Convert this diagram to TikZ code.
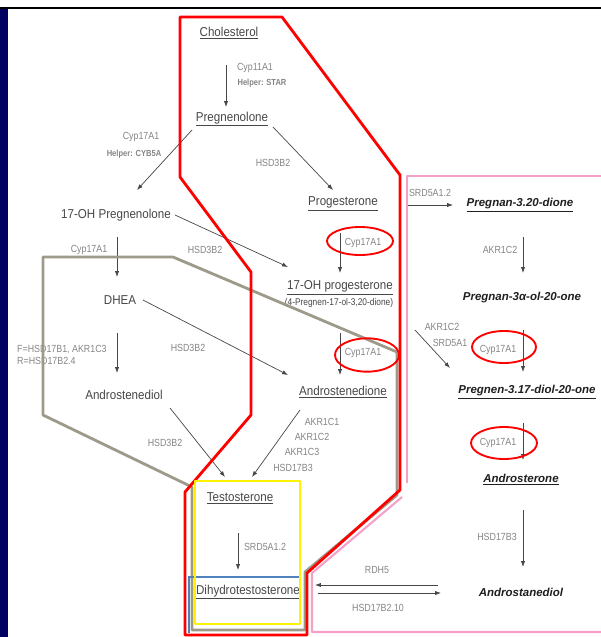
\documentclass[tikz,border=0pt]{standalone}
\usepackage{fontspec}
\setmainfont{Liberation Sans}
\newfontfamily\cmpdfont{Liberation Sans}[FakeStretch=0.9]
\newfontfamily\enzfont{Liberation Sans}[FakeStretch=0.86]
\usetikzlibrary{arrows.meta, calc}
\definecolor{navy}{RGB}{0,0,96}
\definecolor{khaki}{RGB}{158,154,138}
\definecolor{rosa}{RGB}{244,160,200}
\definecolor{steel}{RGB}{79,129,189}
\tikzset{
  cmpd/.style={font=\cmpdfont\fontsize{11}{13}\selectfont, text=black!72, inner sep=1pt},
  cmpdi/.style={font=\fontsize{9.8}{12}\selectfont\bfseries\itshape, text=black!88, inner sep=1pt},
  enz/.style={font=\enzfont\fontsize{8.8}{10.5}\selectfont, text=black!48, inner sep=0pt},
  helper/.style={font=\enzfont\fontsize{7.5}{8}\selectfont\bfseries, text=black!48, inner sep=0pt},
  arr/.style={-{Latex[length=5pt,width=3.6pt]}, draw=black!72, line width=0.6pt},
  hilite/.style={draw=red, line width=1.6pt},
  outline/.style={line width=2.4pt, line join=round}
}
\begin{document}
\begin{tikzpicture}[x=0.3mm,y=-0.3mm]
\useasboundingbox (0,0) rectangle (601,637);
\fill[white] (0,0) rectangle (601,637);
\fill[navy] (0,9) rectangle (8,637);
\draw[line width=2pt] (0,8)--(601,8);

% compounds
\path (229,33) node[cmpd] (chol) {\underline{Cholesterol}};
\path (232,119) node[cmpd] (preg) {\underline{Pregnenolone}};
\path (343,204) node[cmpd] (prog) {\underline{Progesterone}};
\path (116,215) node[cmpd] (ohpreg) {17-OH Pregnenolone};
\path (340,288) node[cmpd] (ohprog) {\underline{17-OH progesterone}};
\path (339,303) node[cmpd, font=\enzfont\fontsize{8.3}{9}\selectfont] (ohprogsub) {(4-Pregnen-17-ol-3,20-dione)};
\path (120,300) node[cmpd] (dhea) {DHEA};
\path (343,392) node[cmpd] (andione) {\underline{Androstenedione}};
\path (124,395) node[cmpd] (andiol) {Androstenediol};
\path (240,498) node[cmpd] (testo) {\underline{Testosterone}};
\path (248,592) node[cmpd] (dht) {\underline{Dihydrotestosterone}};
\path (520,205) node[cmpdi] (pdione) {\underline{Pregnan-3.20-dione}};
\path (522,298) node[cmpdi] (pone) {Pregnan-3α-ol-20-one};
\path (527,392) node[cmpdi] (pdiol) {\underline{Pregnen-3.17-diol-20-one}};
\path (521,480) node[cmpdi] (androst) {\underline{Androsterone}};
\path (521,592) node[cmpdi] (adiol) {Androstanediol};

% enzymes
\path (255,68) node[enz] (e1) {Cyp11A1};
\path (262,83) node[helper] (h1) {Helper: STAR};
\path (141,137) node[enz] (e2) {Cyp17A1};
\path (134,154) node[helper] (h2) {Helper: CYB5A};
\path (273,163) node[enz] (e3) {HSD3B2};
\path (89,250) node[enz] (e4) {Cyp17A1};
\path (205,250) node[enz] (e5) {HSD3B2};
\path (363,243) node[enz] (e6) {Cyp17A1};
\path (17,355) node[enz, anchor=west, align=left] (e7) {F=HSD17B1, AKR1C3\\R=HSD17B2.4};
\path (188,348) node[enz] (e8) {HSD3B2};
\path (363,353) node[enz] (e9) {Cyp17A1};
\path (165,443) node[enz] (e10) {HSD3B2};
\path (322,422) node[enz] (e11a) {AKR1C1};
\path (312,437) node[enz] (e11b) {AKR1C2};
\path (302,452) node[enz] (e11c) {AKR1C3};
\path (293,468) node[enz] (e11d) {HSD17B3};
\path (265,547) node[enz] (e12) {SRD5A1.2};
\path (430,193) node[enz] (e13) {SRD5A1.2};
\path (500,250) node[enz] (e14) {AKR1C2};
\path (442,327) node[enz] (e15a) {AKR1C2};
\path (450,343) node[enz] (e15b) {SRD5A1};
\path (498,350) node[enz] (e16) {Cyp17A1};
\path (498,443) node[enz] (e17) {Cyp17A1};
\path (497,537) node[enz] (e18) {HSD17B3};
\path (377,570) node[enz] (e19) {RDH5};
\path (378,608) node[enz] (e20) {HSD17B2.10};

% reactions
\draw[arr] ($(chol)+(-3,32)$)--($(preg)+(-6,-12)$);
\draw[arr] ($(preg)+(-40,11)$)--($(ohpreg)+(21,-25)$);
\draw[arr] ($(preg)+(41,8)$)--($(prog)+(-10,-14)$);
\draw[arr] ($(ohpreg)+(59,0)$)--($(ohprog)+(-52,-21)$);
\draw[arr] ($(ohpreg)+(1,22)$)--($(dhea)+(-3,-23)$);
\draw[arr] ($(prog)+(-3,29)$)--($(ohprog)+(0,-15)$);
\draw[arr] ($(dhea)+(-3,33)$)--($(andiol)+(-7,-22)$);
\draw[arr] ($(dhea)+(23,0)$)--($(andione)+(-55,-17)$);
\draw[arr] ($(ohprog)+(0,45)$)--($(andione)+(-3,-17)$);
\draw[arr] ($(andiol)+(46,13)$)--($(testo)+(-15,-21)$);
\draw[arr] ($(andione)+(-43,18)$)--($(testo)+(12,-21)$);
\draw[arr] ($(testo)+(-2,35)$)--($(dht)+(-10,-22)$);
\draw[arr] ($(prog)+(65,1)$)--($(pdione)+(-67,0)$);
\draw[arr] ($(pdione)+(3,32)$)--($(pone)+(1,-25)$);
\draw[arr] ($(ohprog)+(75,42)$)--($(pdiol)+(-77,-24)$);
\draw[arr] ($(pone)+(1,32)$)--($(pdiol)+(-4,-20)$);
\draw[arr] ($(pdiol)+(-4,31)$)--($(androst)+(2,-20)$);
\draw[arr] ($(androst)+(2,30)$)--($(adiol)+(2,-25)$);
\draw[arr] ($(adiol)+(-83,-7)$)--($(dht)+(67,-7)$);
\draw[arr] ($(dht)+(70,1)$)--($(adiol)+(-80,1)$);

% highlighted regions
\draw[outline, rosa, line width=1.8pt] (407,483)--(407,176)--(601,176);
\draw[outline, rosa, line width=1.8pt] (402,497)--(312,573)--(312,632)--(601,632);
\draw[outline, khaki] (43,257)--(173,257)--(397,352)--(397,495)--(305,572)--(305,630)--(192,630)--(192,487)--(43,415)--cycle;
\draw[outline, red] (180,17)--(282,17)--(400,175)--(400,490)--(307,573)--(307,635)--(185,635)--(185,492)--(251,415)--(251,272)--(180,177)--cycle;
\draw[steel, line width=1.8pt] (189,633)--(189,577)--(300,577);
\draw[outline, yellow] (195,481) rectangle (300,624);

\draw[hilite] (360,241) ellipse [x radius=9.9mm, y radius=4.2mm];
\draw[hilite] (367,355) ellipse [x radius=9.6mm, y radius=5mm];
\draw[hilite] (504,347) ellipse [x radius=9.6mm, y radius=4.8mm];
\draw[hilite] (504,443) ellipse [x radius=9.9mm, y radius=4.8mm];
\end{tikzpicture}
\end{document}
